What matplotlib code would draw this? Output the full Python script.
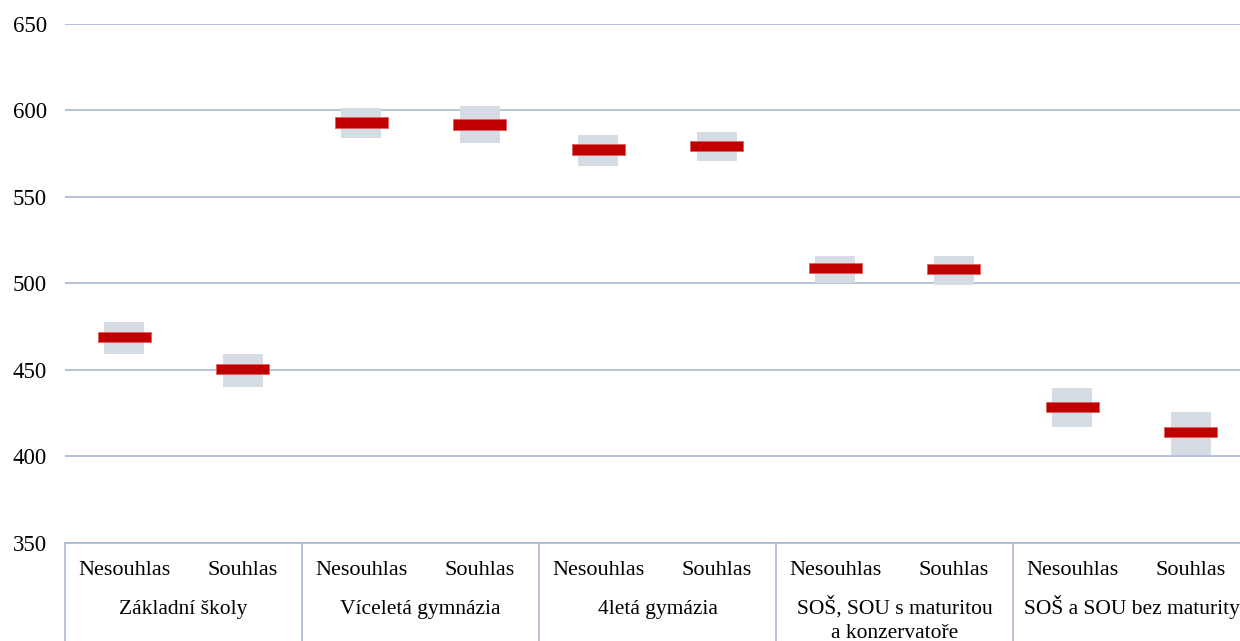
import matplotlib.pyplot as plt
import matplotlib.transforms as mtransforms

plt.rcParams['font.family'] = ['Liberation Serif', 'DejaVu Serif']

# data
groups = ["Základní školy", "Víceletá gymnázia", "4letá gymázia",
          "SOŠ, SOU s maturitou\na konzervatoře", "SOŠ a SOU bez maturity"]
subcats = ["Nesouhlas", "Souhlas"]
means = [469, 450.5, 593, 592, 577.5, 579.5, 509, 508.5, 428.5, 414]
ci_low = [459, 440, 584, 581.5, 568, 571, 500, 499, 417, 401]
ci_high = [477.5, 459, 601.5, 602.5, 586, 587.5, 516, 516, 439.5, 426]

W, H = 1240, 641
PH = 543 - 24  # plot height in px
fig = plt.figure(figsize=(W / 100, H / 100), dpi=100)
ax = fig.add_axes([65 / W, 1 - 543 / H, (1250 - 65) / W, PH / H])

x = list(range(len(means)))

# grey confidence boxes
ax.bar(x, [h - l for h, l in zip(ci_high, ci_low)], bottom=ci_low, width=0.34,
       color="#D6DCE4", zorder=2)
# red mean markers
ax.bar(x, [6] * len(means), bottom=[m - 3 for m in means], width=0.45,
       color="#C00000", edgecolor="#E06060", linewidth=0.6, zorder=3)

ax.set_ylim(350, 650)
ax.set_xlim(-0.5, len(means) - 0.5)
ax.set_yticks(range(350, 651, 50))
ax.tick_params(axis="y", length=0, pad=13, labelsize=16.5)
ax.set_xticks([])
ax.grid(axis="y", color="#A9B8CE", linewidth=1.2, zorder=1)
for s in ["left", "right", "top"]:
    ax.spines[s].set_visible(False)
ax.spines["bottom"].set_color("#A9B8CE")
ax.spines["bottom"].set_linewidth(1.2)

# category table under the axis
trans = mtransforms.blended_transform_factory(ax.transData, ax.transAxes)
bottom_ax = -(641 - 543) / PH - 0.01
for g in range(len(groups) + 1):
    ax.plot([g * 2 - 0.5] * 2, [0, bottom_ax], transform=trans, color="#A9B8CE",
            linewidth=1.2, clip_on=False)
for i in x:
    ax.text(i, -(575 - 543) / PH, subcats[i % 2], transform=trans, ha="center",
            va="baseline", fontsize=16)
for g, name in enumerate(groups):
    for k, line in enumerate(name.split("\n")):
        ax.text(g * 2 + 0.5, -(614 + 24 * k - 543) / PH, line, transform=trans,
                ha="center", va="baseline", fontsize=15.5)

fig.savefig("out.png", dpi=100)
